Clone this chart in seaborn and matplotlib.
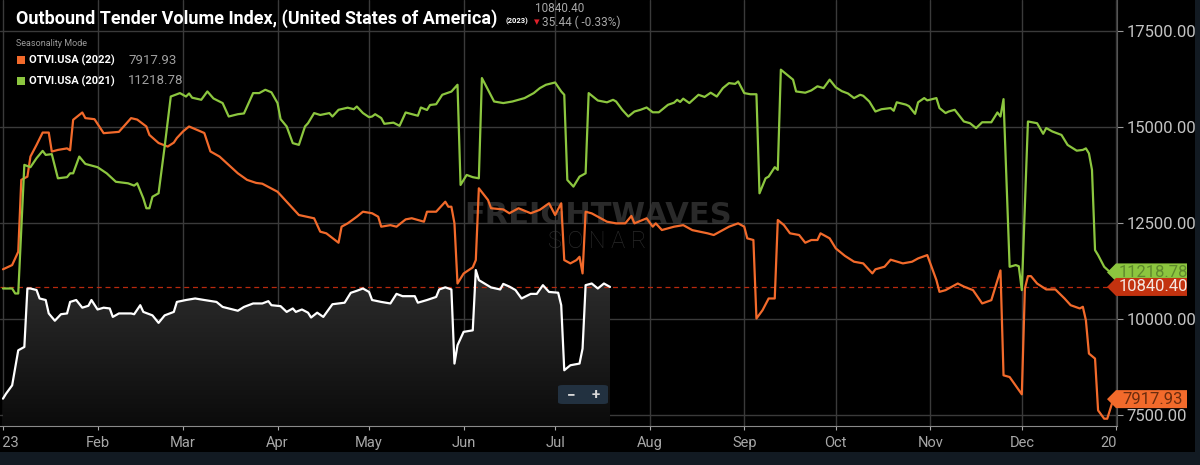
import numpy as np
import pandas as pd
import matplotlib
matplotlib.use("Agg")
import matplotlib.pyplot as plt
import seaborn as sns
from matplotlib.colors import LinearSegmentedColormap
from matplotlib.patches import Rectangle, Polygon, FancyBboxPatch
from matplotlib.transforms import Bbox, TransformedBbox, IdentityTransform

# seasonality mode: every year is laid on the 2023 calendar, days counted from Jan 1
days_2022 = [0, 3, 5, 6, 8, 9, 11, 13, 15, 16, 18, 21, 22, 23, 26, 27, 30, 33, 38, 42, 44, 47, 48, 51, 54, 56, 57, 59,
             61, 66, 68, 71, 77, 80, 83, 85, 90, 93, 97, 102, 104, 106, 110, 111, 113, 116, 118, 121, 123, 124, 127,
             129, 132, 134, 138, 139, 142, 145, 146, 147, 148, 149, 151, 154, 155, 156, 159, 160, 164, 166, 169, 173,
             176, 179, 181, 183, 184, 186, 188, 189, 190, 191, 193, 198, 201, 204, 206, 207, 211, 213, 214, 216, 220,
             223, 226, 231, 233, 236, 238, 241, 243, 244, 246, 247, 249, 251, 253, 254, 256, 258, 261, 263, 265, 267,
             268, 271, 273, 276, 279, 282, 285, 286, 289, 291, 295, 298, 300, 303, 306, 307, 309, 313, 315, 318, 321,
             324, 327, 328, 330, 334, 335, 336, 337, 339, 342, 345, 348, 350, 353, 354, 355, 356, 358, 359, 361, 362,
             364]
otvi_2022 = [11300, 11410, 11757, 13630, 13714, 14236, 14540, 14862, 14862, 14367, 14410, 14450, 14400, 15194,
             15385, 15238, 15210, 14846, 14880, 15238, 15200, 15020, 14800, 14590, 14497, 14600, 14720, 14890, 15020,
             14850, 14370, 14236, 13800, 13630, 13550, 13530, 13320, 13060, 12714, 12628, 12280, 12237, 11992, 12410,
             12497, 12670, 12800, 12760, 12670, 12410, 12450, 12410, 12600, 12630, 12540, 12800, 12800, 13060, 12930,
             12930, 12497, 10930, 11190, 11350, 11540, 13410, 13106, 12890, 12860, 12760, 12890, 12760, 12850, 13020,
             12714, 13020, 11540, 11454, 11540, 11626, 11193, 12800, 12757, 12540, 12497, 12497, 12690, 12497, 12628,
             12410, 12497, 12323, 12410, 12450, 12320, 12237, 12193, 12323, 12410, 12497, 12410, 12106, 12063, 10018,
             10235, 10540, 10540, 12584, 12453, 12237, 12193, 11992, 12063, 12063, 12237, 12106, 11845, 11650, 11497,
             11454, 11193, 11300, 11367, 11550, 11454, 11497, 11584, 11670, 11018, 10713, 10757, 10930, 10850, 10757,
             10410, 10496, 11270, 8538, 8494, 8043, 10800, 11122, 11122, 10930, 10775, 10775, 10540, 10365, 10280,
             10323, 9974, 9105, 8974, 7625, 7408, 7408, 7917.93]

days_2021 = [0, 3, 4, 5, 7, 9, 11, 13, 14, 16, 18, 21, 22, 23, 25, 27, 31, 34, 37, 41, 43, 44, 46, 47, 48, 49, 51, 53,
             55, 58, 60, 61, 62, 65, 67, 69, 71, 72, 74, 77, 79, 82, 84, 86, 88, 90, 91, 93, 95, 97, 99, 100, 102, 104,
             107, 108, 110, 113, 115, 116, 118, 120, 121, 122, 124, 125, 128, 130, 132, 136, 137, 139, 140, 142, 144,
             147, 149, 150, 152, 154, 156, 157, 159, 161, 164, 167, 169, 171, 174, 176, 178, 181, 183, 184, 185, 187,
             189, 191, 192, 195, 198, 200, 201, 203, 205, 207, 209, 211, 213, 215, 218, 220, 221, 222, 223, 225, 228,
             230, 232, 234, 236, 238, 240, 241, 243, 245, 247, 248, 250, 251, 253, 254, 255, 257, 259, 260, 263, 265,
             267, 269, 271, 273, 275, 277, 279, 281, 282, 284, 286, 288, 291, 292, 293, 296, 297, 299, 300, 302, 303,
             306, 307, 309, 310, 312, 315, 317, 319, 321, 324, 326, 327, 328, 330, 332, 333, 334, 336, 339, 341, 342,
             344, 347, 349, 352, 354, 355, 356, 357, 358, 359, 361, 363]
otvi_2021 = [10800, 10800, 10670, 10670, 14020, 13960, 14194, 14385, 14280, 14300, 13670, 13700, 13800, 13800,
             14236, 14045, 13960, 13800, 13580, 13540, 13480, 13540, 13150, 12890, 12890, 13190, 13280, 14497, 15800,
             15890, 15800, 15880, 15770, 15716, 15933, 15750, 15671, 15630, 15280, 15340, 15360, 15890, 15890, 15977,
             15910, 15630, 15212, 15020, 14586, 14541, 15020, 15106, 15369, 15320, 15369, 15280, 15455, 15510, 15470,
             15540, 15370, 15263, 15280, 15340, 15240, 15090, 15120, 15037, 15385, 15300, 15515, 15450, 15580, 15600,
             15846, 15930, 16107, 13497, 13758, 13700, 13670, 16282, 15977, 15671, 15630, 15671, 15715, 15760, 15890,
             16020, 16107, 16167, 15933, 15846, 13628, 13454, 13714, 13800, 15890, 15697, 15650, 15715, 15670, 15455,
             15280, 15410, 15455, 15515, 15390, 15390, 15585, 15640, 15715, 15660, 15745, 15630, 15846, 15790, 15900,
             15800, 16020, 16150, 16130, 16194, 15890, 15860, 15860, 13280, 13670, 13715, 13960, 13890, 16500, 16370,
             16240, 15933, 15900, 15960, 16067, 16020, 16240, 16040, 15940, 15880, 15760, 15846, 15820, 15671, 15410,
             15470, 15500, 15430, 15650, 15590, 15550, 15350, 15650, 15760, 15700, 15760, 15500, 15370, 15410, 15455,
             15150, 15106, 14977, 15130, 15130, 15385, 15280, 15733, 11365, 11410, 11380, 10757, 15150, 15106, 14830,
             14980, 14890, 14800, 14540, 14390, 14410, 14450, 14320, 13890, 11800, 11670, 11365, 11218.78]

days_2023 = [0, 1, 3, 5, 7, 8, 9, 11, 12, 14, 15, 17, 19, 21, 22, 24, 26, 28, 29, 31, 33, 35, 36, 38, 42, 43, 45, 46,
             49, 51, 53, 56, 57, 60, 63, 66, 70, 72, 74, 77, 79, 82, 85, 87, 88, 91, 93, 95, 96, 98, 100, 101, 103,
             105, 108, 112, 114, 116, 118, 120, 121, 124, 127, 129, 131, 135, 136, 139, 142, 143, 145, 147, 148, 149,
             151, 154, 155, 156, 160, 163, 164, 166, 168, 170, 173, 175, 177, 179, 182, 183, 184, 186, 189, 190, 191,
             193, 195, 197, 199]
otvi_2023 = [7930, 8060, 8277, 9190, 9277, 10800, 10800, 10760, 10540, 10500, 10150, 9960, 10130, 10150, 10450,
             10500, 10300, 10350, 10500, 10253, 10300, 10280, 10060, 10150, 10150, 10130, 10365, 10190, 10100, 9904,
             10100, 10190, 10450, 10500, 10540, 10500, 10450, 10320, 10280, 10220, 10320, 10410, 10410, 10470, 10365,
             10340, 10190, 10280, 10190, 10253, 10170, 10044, 10170, 10060, 10390, 10430, 10687, 10740, 10800, 10710,
             10500, 10450, 10410, 10660, 10600, 10600, 10430, 10500, 10580, 10775, 10830, 10775, 8844, 9321, 9670,
             9710, 11280, 11018, 10827, 10775, 10920, 10850, 10760, 10540, 10660, 10660, 10887, 10710, 10690, 10365,
             8670, 8800, 8844, 9235, 10887, 10930, 10800, 10930, 10840.40]

change_2023 = -35.44
change_pct_2023 = -0.33
y_ticks = [7500, 10000, 12500, 15000, 17500]
month_labels = ["2023", "Feb", "Mar", "Apr", "May", "Jun", "Jul", "Aug", "Sep", "Oct", "Nov", "Dec", "2024"]

ORANGE = "#f26a2b"
GREEN = "#8cc63f"
RED_TAG = "#c2320f"
W, H = 1200, 465

start = pd.Timestamp("2023-01-01")
to_dates = lambda d: start + pd.to_timedelta(d, unit="D")
df22 = pd.DataFrame({"date": to_dates(days_2022), "otvi": otvi_2022})
df21 = pd.DataFrame({"date": to_dates(days_2021), "otvi": otvi_2021})
df23 = pd.DataFrame({"date": to_dates(days_2023), "otvi": otvi_2023})

sns.set_style("dark", {"axes.facecolor": "black", "figure.facecolor": "#121a22"})
plt.rcParams["font.family"] = ["Roboto", "DejaVu Sans"]

fig = plt.figure(figsize=(W / 100, H / 100), dpi=100)
fig.patches.append(Rectangle((0, 13 / H), 1195 / W, 1 - 13 / H, transform=fig.transFigure,
                             facecolor="black", edgecolor="none", zorder=-10))
ax = fig.add_axes([0, 1 - 426 / H, 1117 / W, 426 / H])
ax.set_facecolor("black")

y_lo, y_hi = 7218, 18315
x_lo, x_hi = start - pd.Timedelta(days=0.98), start + pd.Timedelta(days=365.2)

# 2023 area: grey gradient under the white line
fill = ax.fill_between(df23["date"], df23["otvi"], y_lo, facecolor="none", edgecolor="none")
grad = LinearSegmentedColormap.from_list("g", ["#0b0b0b", "#2e2e2e"])
xn = matplotlib.dates.date2num([df23["date"].iloc[0], df23["date"].iloc[-1]])
im = ax.imshow(np.linspace(0, 1, 256).reshape(-1, 1), cmap=grad, origin="lower", aspect="auto",
               extent=[xn[0], xn[1], y_lo, max(otvi_2023)], zorder=1)
im.set_clip_path(fill.get_paths()[0], transform=ax.transData)

sns.lineplot(data=df23, x="date", y="otvi", ax=ax, color="white", linewidth=1.6, zorder=3)
sns.lineplot(data=df22, x="date", y="otvi", ax=ax, color=ORANGE, linewidth=1.6, zorder=4)
sns.lineplot(data=df21, x="date", y="otvi", ax=ax, color=GREEN, linewidth=1.6, zorder=4)
ax.axhline(otvi_2023[-1], color="#b8290e", lw=0.9, ls=(0, (4, 3)), zorder=2)

ax.set_xlim(x_lo, x_hi)
ax.set_ylim(y_lo, y_hi)
ax.set_xlabel("")
ax.set_ylabel("")

months = pd.date_range("2023-01-01", "2024-01-01", freq="MS")
ax.set_xticks(months)
ax.set_xticklabels(month_labels)
ax.set_yticks(y_ticks)
ax.set_yticklabels([f"{v:.2f}" for v in y_ticks])
ax.yaxis.tick_right()
ax.grid(True, color="#3a3a3a", lw=1)
ax.tick_params(axis="x", colors="#a8a8a8", labelsize=10.5, length=3, pad=4, bottom=True)
ax.tick_params(axis="y", colors="#9a9a9a", labelcolor="#c4c4c4", labelsize=12, length=4, pad=3, right=True)
for side in ["top", "left"]:
    ax.spines[side].set_visible(False)
ax.spines["bottom"].set_color("#8a8a8a")
ax.spines["right"].set_color("#555555")

# the year labels at both ends are cut by the plot edges, as in the app
clip = TransformedBbox(Bbox([[3 / W, 0], [1117 / W, 0.2]]), fig.transFigure)
for lbl in ax.get_xticklabels():
    lbl.set_clip_box(clip)
    lbl.set_clip_on(True)

# watermark
ax.text(0.535, 0.495, "FREIGHTWAVES", transform=ax.transAxes, fontsize=22, fontweight="bold",
        family="DejaVu Sans", color="#2a2a2a", ha="center", va="center", zorder=0)
ax.text(0.535, 0.432, "S O N A R", transform=ax.transAxes, fontsize=17, fontweight="light",
        color="#2a2a2a", ha="center", va="center", zorder=0)


def fy(px):
    return 1 - px / H


# header
fig.text(16 / W, fy(19), "Outbound Tender Volume Index, (United States of America)", fontsize=13,
         fontweight="bold", color="white", va="center")
fig.text(505 / W, fy(21), "(2023)", fontsize=5.5, fontweight="bold", color="white", va="center")
fig.text(535 / W, fy(9), f"{otvi_2023[-1]:.2f}", fontsize=8.5, color="#a8a8a8", va="center")
fig.text(537 / W, fy(22), "\u25BE", fontsize=8, color="#e0202a", va="center", ha="center", family="DejaVu Sans")
fig.text(542 / W, fy(22), f"{abs(change_2023):.2f} ( {change_pct_2023:.2f}%)", fontsize=8.5,
         color="#a8a8a8", va="center")

# legend block
fig.text(16 / W, fy(44), "Seasonality Mode", fontsize=6.5, color="#9a9a9a", va="center")
for ypx, col, name, val in [(60, ORANGE, "OTVI.USA (2022)", otvi_2022[-1]),
                            (81, GREEN, "OTVI.USA (2021)", otvi_2021[-1])]:
    fig.patches.append(Rectangle((17 / W, fy(ypx + 4)), 8 / W, 8 / H, transform=fig.transFigure,
                                 facecolor=col, edgecolor="none"))
    fig.text(29 / W, fy(ypx), name, fontsize=8, fontweight="bold", color="white", va="center")
    fig.text(128 / W, fy(ypx), f"{val:.2f}", fontsize=9.5, color="#a0a0a0", va="center")

# price tags at the right edge


def price_tag(value, face, txt):
    y = ax.transData.transform((0, value))[1]
    x0 = ax.bbox.x1 - 10
    pts = [[x0, y], [x0 + 9, y + 9], [x0 + 80, y + 9], [x0 + 80, y - 9], [x0 + 9, y - 9]]
    fig.patches.append(Polygon(pts, closed=True, transform=IdentityTransform(), facecolor=face,
                               edgecolor="none", zorder=5))
    fig.text(x0 + 46, y, f"{value:.2f}", transform=IdentityTransform(), fontsize=12, color=txt,
             ha="center", va="center", zorder=6)


price_tag(otvi_2021[-1], GREEN, "#5f8a2c")
price_tag(otvi_2023[-1], RED_TAG, "#f4e6e0")
price_tag(otvi_2022[-1], ORANGE, "#6a2c0e")

# zoom buttons
fig.patches.append(FancyBboxPatch((558 / W, fy(404)), 50 / W, 19 / H, boxstyle="round,pad=0,rounding_size=0.004",
                                  transform=fig.transFigure, facecolor="#223140", edgecolor="none"))
fig.text(571 / W, fy(395), "\u2212", fontsize=11, color="#d8d8d8", ha="center", va="center", fontweight="bold")
fig.text(596 / W, fy(395), "+", fontsize=11, color="#d8d8d8", ha="center", va="center", fontweight="bold")

fig.savefig("out.png", dpi=100, facecolor=fig.get_facecolor())
